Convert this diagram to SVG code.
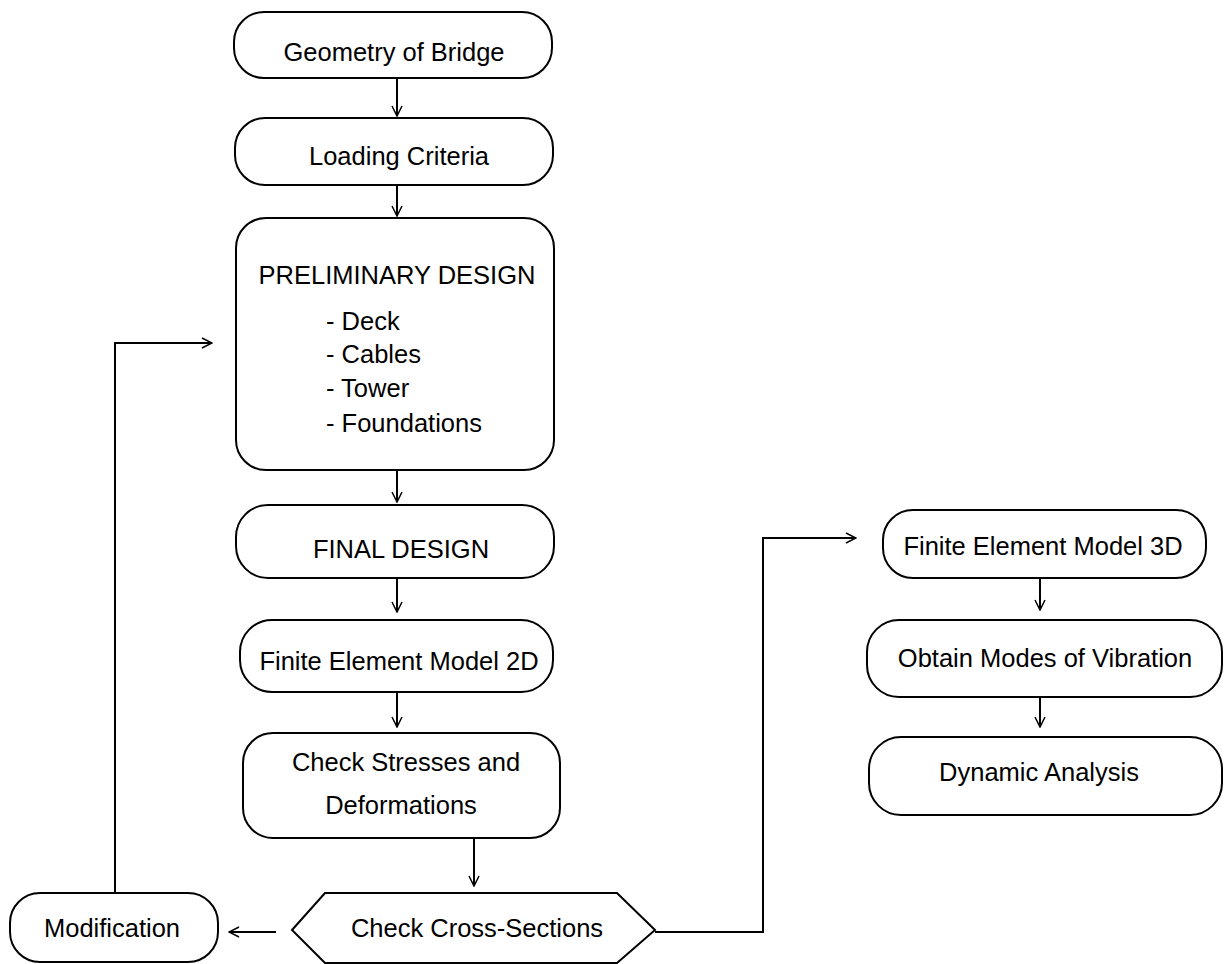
<svg xmlns="http://www.w3.org/2000/svg" width="1224" height="964" viewBox="0 0 1224 964">
<defs>
<marker id="ah" viewBox="0 0 12 12" refX="11" refY="6" markerWidth="12" markerHeight="12" markerUnits="userSpaceOnUse" orient="auto">
<path d="M1,1 L11,6 L1,11" fill="none" stroke="#000" stroke-width="1.5"/>
</marker>
<style>
.box{fill:#fff;stroke:#000;stroke-width:2}
.t{font-family:"Liberation Sans",Arial,sans-serif;font-size:25.5px;fill:#000;text-anchor:middle}
.tl{font-family:"Liberation Sans",Arial,sans-serif;font-size:25.5px;fill:#000}
.c{fill:none;stroke:#000;stroke-width:2}
</style>
</defs>
<rect width="1224" height="964" fill="#fff"/>
<g id="connectors">
<line class="c" x1="397" y1="78" x2="397" y2="116" marker-end="url(#ah)"/>
<line class="c" x1="397" y1="185" x2="397" y2="216" marker-end="url(#ah)"/>
<line class="c" x1="397" y1="470" x2="397" y2="502" marker-end="url(#ah)"/>
<line class="c" x1="397" y1="578" x2="397" y2="612" marker-end="url(#ah)"/>
<line class="c" x1="397" y1="692" x2="397" y2="727" marker-end="url(#ah)"/>
<line class="c" x1="474" y1="838" x2="474" y2="886" marker-end="url(#ah)"/>
<line class="c" x1="276" y1="932" x2="229" y2="932" marker-end="url(#ah)"/>
<polyline class="c" points="115,893 115,343 212,343" marker-end="url(#ah)"/>
<polyline class="c" points="655,932 763,932 763,538 856,538" marker-end="url(#ah)"/>
<line class="c" x1="1040" y1="578" x2="1040" y2="610" marker-end="url(#ah)"/>
<line class="c" x1="1040" y1="697" x2="1040" y2="727" marker-end="url(#ah)"/>
</g>
<g id="geometry">
<rect class="box" x="234" y="12" width="318" height="66" rx="30"/>
<text class="t" x="394" y="61">Geometry of Bridge</text>
</g>
<g id="loading">
<rect class="box" x="235" y="118" width="318" height="67" rx="30"/>
<text class="t" x="399" y="165">Loading Criteria</text>
</g>
<g id="preliminary">
<rect class="box" x="236" y="218" width="318" height="252" rx="30"/>
<text class="t" x="397" y="284">PRELIMINARY DESIGN</text>
<text class="tl" x="326" y="330">- Deck</text>
<text class="tl" x="326" y="363">- Cables</text>
<text class="tl" x="326" y="397">- Tower</text>
<text class="tl" x="326" y="432">- Foundations</text>
</g>
<g id="final">
<rect class="box" x="236" y="505" width="318" height="73" rx="32"/>
<text class="t" x="401" y="558">FINAL DESIGN</text>
</g>
<g id="fe2d">
<rect class="box" x="240" y="620" width="313" height="72" rx="32"/>
<text class="t" x="399" y="670">Finite Element Model 2D</text>
</g>
<g id="stresses">
<rect class="box" x="243" y="733" width="317" height="105" rx="30"/>
<text class="t" x="406" y="771">Check Stresses and</text>
<text class="t" x="401" y="814">Deformations</text>
</g>
<g id="crosssections">
<polygon class="box" points="292,930 325,893 617,893 655,930 617,963 325,963"/>
<text class="t" x="477" y="937">Check Cross-Sections</text>
</g>
<g id="modification">
<rect class="box" x="10" y="893" width="208" height="69" rx="30"/>
<text class="t" x="112" y="937">Modification</text>
</g>
<g id="fe3d">
<rect class="box" x="883" y="510" width="323" height="68" rx="30"/>
<text class="t" x="1043" y="555">Finite Element Model 3D</text>
</g>
<g id="modes">
<rect class="box" x="867" y="620" width="355" height="77" rx="32"/>
<text class="t" x="1045" y="667">Obtain Modes of Vibration</text>
</g>
<g id="dynamic">
<rect class="box" x="869" y="737" width="353" height="78" rx="32"/>
<text class="t" x="1039" y="781">Dynamic Analysis</text>
</g>
</svg>
